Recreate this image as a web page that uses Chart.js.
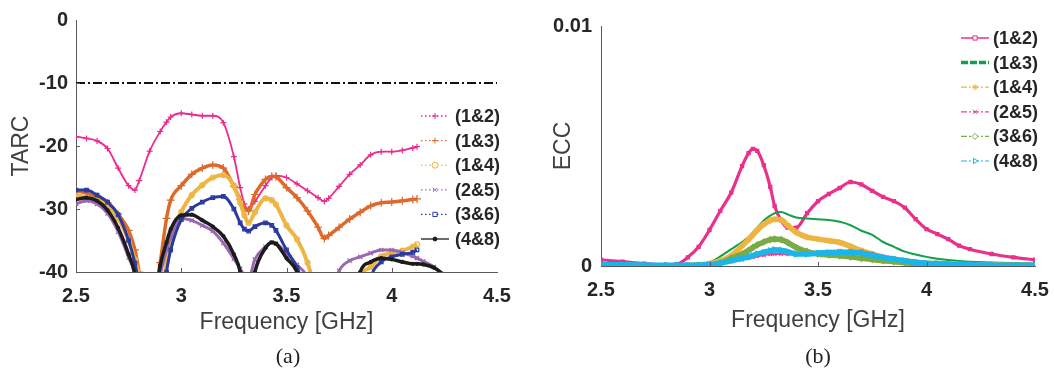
<!DOCTYPE html>
<html><head><meta charset="utf-8">
<script src="https://cdn.jsdelivr.net/npm/chart.js@4.4.1/dist/chart.umd.min.js"></script>
<style>
html,body{margin:0;padding:0;background:#fff;width:1054px;height:369px;overflow:hidden;}
#wrap{position:relative;width:1054px;height:369px;overflow:hidden;}
canvas{position:absolute;top:0;}
#cA{left:0}
#cB{left:527px}
.cap{position:absolute;top:343px;font-family:"Liberation Serif","Times New Roman",serif;font-size:22px;line-height:26px;color:#222;transform:translateX(-50%);}
</style></head>
<body><div id="wrap">
<canvas id="cA" width="527" height="369"></canvas>
<canvas id="cB" width="534" height="369"></canvas>
<div class="cap" style="left:288px">(a)</div>
<div class="cap" style="left:818px">(b)</div>
</div>
<script>
// ---------------- DATA ----------------
const SERIES_LABELS = ['(1&2)', '(1&3)', '(1&4)', '(2&5)', '(3&6)', '(4&8)'];
const X_TICKS = [2.5, 3, 3.5, 4, 4.5];
const TARC_Y_TICKS = [0, -10, -20, -30, -40];
const ECC_Y_TICKS = [0, 0.01];

// (a) TARC [dB] vs frequency [GHz]
const TARC_FREQ = [2.5, 2.55, 2.6, 2.65, 2.7, 2.75, 2.78, 2.8, 2.85, 2.9,
  2.93, 2.95, 3.0, 3.05, 3.1, 3.15, 3.2, 3.25, 3.28, 3.3,
  3.32, 3.35, 3.4, 3.43, 3.45, 3.5, 3.55, 3.6, 3.65, 3.68,
  3.7, 3.75, 3.8, 3.85, 3.9, 3.95, 4.0, 4.05, 4.1, 4.12,
  4.15, 4.2, 4.25];
const TARC_12 = [-18.5, -18.8, -19.2, -20.4, -23.5, -26.3, -27.0, -25.5, -20.8, -17.7,
  -16.2, -15.4, -14.8, -15.0, -15.2, -15.2, -16.3, -21.7, -26.6, -29.2,
  -30.0, -28.8, -26.3, -25.0, -24.7, -25.0, -26.0, -27.1, -28.2, -28.8,
  -28.3, -26.4, -24.5, -23.0, -21.4, -20.9, -20.9, -20.7, -20.3, -20.1,
  null, null, null];
const TARC_13 = [-27.0, -27.5, -28.0, -29.0, -30.8, -33.4, -36.5, -40.0, -48, -38.5,
  -31.5, -28.6, -26.3, -24.5, -23.5, -23.0, -23.5, -26.4, -28.5, -29.8,
  -30.3, -27.7, -25.3, -24.8, -24.9, -26.6, -28.2, -30.3, -32.9, -34.7,
  -34.2, -32.9, -31.6, -30.5, -29.5, -29.0, -28.9, -28.7, -28.5, -28.4,
  null, null, null];
const TARC_14 = [-27.7, -28.2, -28.6, -29.6, -31.5, -35.0, -38.0, -40.5, -50, -46,
  -38.5, -35.5, -30.5, -27.8, -26.2, -25.0, -24.6, -26.3, -29.0, -31.0,
  -32.2, -30.5, -28.3, -28.6, -29.3, -32.6, -34.8, -38.5, -45, -50,
  -50, -50, -50, -41, -39.2, -37.5, -37.0, -36.6, -36.0, -35.6,
  null, null, null];
const TARC_25 = [-29.2, -28.7, -29.2, -30.7, -33.6, -37.7, -40.5, -46, -50, -40.5,
  -36.5, -34.5, -31.5, -31.8, -32.6, -33.5, -35.4, -37.9, -39.5, -40.5,
  -41.0, -38.0, -36.0, -35.3, -35.5, -37.0, -38.9, -41.0, -48, -50,
  -45, -39.8, -38.2, -37.6, -37.0, -36.5, -36.5, -36.9, -37.5, -37.8,
  -38.3, -39.2, -40.5];
const TARC_36 = [-27.0, -27.0, -27.8, -28.9, -30.9, -35.0, -38.6, -42, -50, -48,
  -40, -36.5, -31.7, -29.9, -28.9, -28.2, -28.0, -30.0, -32.2, -33.2,
  -33.5, -32.8, -32.2, -32.6, -33.4, -36.5, -39.3, -44, -50, -50,
  -50, -50, -50, -50, -41, -38.4, -37.6, -37.2, -36.9, -36.5,
  null, null, null];
const TARC_48 = [-28.5, -28.2, -28.7, -30.2, -33.0, -37.2, -40.5, -46, -50, -39,
  -35.3, -33.2, -31.0, -30.9, -31.8, -32.8, -34.3, -37.2, -40, -45,
  -46, -40, -36.2, -35.3, -35.5, -37.8, -40, -46, -50, -50,
  -50, -50, -48, -40, -38.4, -37.8, -38.0, -38.4, -38.7, -38.7,
  -38.8, -39.3, -40.5];
const REF_FREQ = [2.5, 4.5];
const REF_TARC = [-10, -10];

// (b) ECC vs frequency [GHz]
const ECC_FREQ = [2.5, 2.6, 2.7, 2.8, 2.85, 2.9, 2.95, 3.0, 3.05, 3.1,
  3.15, 3.18, 3.2, 3.22, 3.25, 3.28, 3.3, 3.33, 3.36, 3.4,
  3.45, 3.5, 3.55, 3.6, 3.65, 3.7, 3.75, 3.8, 3.85, 3.9,
  3.95, 4.0, 4.05, 4.1, 4.15, 4.2, 4.3, 4.4, 4.5];
const ECC_12 = [0.00026, 0.00018, 0.0001, 0.00005, 0.00008, 0.00036, 0.0008, 0.0015, 0.0023, 0.00306,
  0.00416, 0.0047, 0.00488, 0.0048, 0.0042, 0.0033, 0.0025, 0.0019, 0.0016, 0.0016,
  0.0022, 0.0027, 0.003, 0.00325, 0.0035, 0.0034, 0.00313, 0.00288, 0.0027, 0.00243,
  0.00195, 0.00154, 0.00133, 0.00112, 0.00085, 0.0007, 0.0005, 0.00036, 0.00026];
const ECC_13 = [0.00006, 0.00006, 0.00004, 0.00002, 0.00002, 0.00002, 0.00005, 0.00015, 0.0004, 0.0007,
  0.001, 0.0012, 0.0014, 0.0016, 0.0019, 0.0021, 0.0022, 0.00225, 0.00215, 0.00202,
  0.00198, 0.00195, 0.00192, 0.00184, 0.0017, 0.00147, 0.0013, 0.001, 0.0008, 0.0006,
  0.00048, 0.00038, 0.0003, 0.00025, 0.00021, 0.00018, 0.00015, 0.00012, 0.0001];
const ECC_14 = [0.00002, 0.00002, 0.00002, 0.00001, 0.00001, 0.00002, 0.00005, 0.0001, 0.00022, 0.00043,
  0.00084, 0.0011, 0.0013, 0.0015, 0.00174, 0.0019, 0.00195, 0.00193, 0.0017, 0.0014,
  0.0012, 0.00112, 0.00105, 0.00098, 0.00082, 0.00064, 0.0005, 0.00036, 0.00028, 0.00022,
  0.00016, 0.00012, 0.0001, 0.00008, 0.00006, 0.00005, 0.00004, 0.00003, 0.00002];
const ECC_25 = [0.00002, 0.00002, 0.00002, 0.00001, 0.00001, 0.00002, 0.00003, 0.00005, 0.0001, 0.00018,
  0.00026, 0.00032, 0.00036, 0.0004, 0.00045, 0.00049, 0.0005, 0.0005, 0.00049, 0.00048,
  0.0005, 0.00056, 0.0006, 0.00064, 0.00064, 0.00062, 0.00052, 0.0004, 0.00032, 0.00025,
  0.00018, 0.00012, 0.0001, 0.00008, 0.00006, 0.00005, 0.00004, 0.00003, 0.00002];
const ECC_36 = [0.00001, 0.00001, 0.00001, 0.00001, 0.00001, 0.00002, 0.00003, 0.00005, 0.00012, 0.00032,
  0.0005, 0.00065, 0.00077, 0.00088, 0.001, 0.0011, 0.00112, 0.0011, 0.00098, 0.00077,
  0.0006, 0.0005, 0.00046, 0.00043, 0.00038, 0.00032, 0.00027, 0.00022, 0.00018, 0.00014,
  0.0001, 0.00008, 0.00006, 0.00005, 0.00004, 0.00003, 0.00002, 0.00002, 0.00002];
const ECC_48 = [0.00005, 0.00005, 0.00004, 0.00003, 0.00003, 0.00003, 0.00004, 0.00006, 0.00012, 0.00022,
  0.00032, 0.00038, 0.00043, 0.0005, 0.00057, 0.00064, 0.00068, 0.00066, 0.0006, 0.0005,
  0.0005, 0.00054, 0.00056, 0.00057, 0.00056, 0.00053, 0.00045, 0.00036, 0.00029, 0.00022,
  0.00016, 0.00012, 0.0001, 0.00008, 0.00006, 0.00005, 0.00004, 0.00003, 0.00003];

// ---------------- STYLE ----------------
Chart.defaults.font.family = "'Liberation Sans', Arial, sans-serif";
const TICK_FONT = {size: 20, weight: 'bold'};
const TICK_COLOR = '#262626';
const AXIS_COLOR = '#5a5a5a';

const TARC_STYLE = [
  {color: '#ec2a8c', width: 1.8, point: 'cross', r: 3, dash: [1.5, 2.5]},
  {color: '#dc6a2c', width: 3.5, point: 'cross', r: 4, dash: [1.5, 2.5]},
  {color: '#eeb545', width: 4, point: 'circle', r: 2.5, dash: [1.5, 2.5]},
  {color: '#9868b0', width: 3, point: 'crossRot', r: 3, dash: [1.5, 2.5]},
  {color: '#2b3a9e', width: 3, point: 'rect', r: 2.5, dash: [1.5, 2.5]},
  {color: '#1c1c1c', width: 3.5, point: 'circle', r: 1.5, dash: []}
];
const ECC_STYLE = [
  {color: '#e8308c', width: 3.2, point: 'rect', r: 2.2, lw: 1.5, ldash: []},
  {color: '#13a049', width: 2, point: false, r: 0, lw: 3.5, ldash: [7, 2]},
  {color: '#edb540', width: 5.5, point: 'star', r: 3, lw: 1.2, ldash: [6, 2, 2, 2]},
  {color: '#e6449a', width: 2, point: 'crossRot', r: 2.5, lw: 1.2, ldash: [6, 2, 2, 2]},
  {color: '#7bab44', width: 5.5, point: 'rectRot', r: 3, lw: 1.2, ldash: [6, 2, 2, 2]},
  {color: '#1ab6ea', width: 5.5, point: 'triangle', r: 3, lw: 1.2, ldash: [6, 2, 2, 2], rot: 90}
];

function pts(freq, vals) { return vals.map((v, i) => ({x: freq[i], y: v})); }

// in-plot legend drawn on the canvas (MATLAB-style legend inside the axes)
const inLegend = {
  id: 'inLegend',
  afterDraw(chart, args, o) {
    const ctx = chart.ctx;
    ctx.save();
    o.items.forEach((it, i) => {
      const ds = chart.data.datasets[it.ds];
      const y = o.y0 + o.dy * i;
      ctx.strokeStyle = ds.borderColor;
      ctx.lineWidth = it.lw;
      ctx.setLineDash(it.dash);
      ctx.beginPath();
      ctx.moveTo(o.x0, y); ctx.lineTo(o.x1, y); ctx.stroke();
      ctx.setLineDash([]);
      if (ds.pointStyle) {
        ctx.fillStyle = ds.label === '(4&8)' && chart.canvas.id === 'cA' ? ds.borderColor : '#fff';
        ctx.strokeStyle = ds.borderColor;
        ctx.lineWidth = 1;
        const opt = {pointStyle: ds.pointStyle, radius: it.r, rotation: ds.pointRotation || 0, borderWidth: 1};
        if (Chart.helpers && Chart.helpers.drawPoint) {
          Chart.helpers.drawPoint(ctx, opt, (o.x0 + o.x1) / 2, y);
        } else {
          ctx.beginPath(); ctx.arc((o.x0 + o.x1) / 2, y, it.r, 0, Math.PI * 2); ctx.fill(); ctx.stroke();
        }
      }
      ctx.fillStyle = TICK_COLOR;
      ctx.font = "bold 18px 'Liberation Sans', Arial, sans-serif";
      ctx.textBaseline = 'middle';
      ctx.textAlign = 'left';
      ctx.fillText(ds.label, o.xt, y + 1);
    });
    ctx.restore();
  }
};

// small inward tick marks (MATLAB style), placed through the chart scales
const innerTicks = {
  id: 'innerTicks',
  afterDraw(chart, args, o) {
    const ctx = chart.ctx, xs = chart.scales.x, ys = chart.scales.y, a = chart.chartArea;
    ctx.save();
    ctx.strokeStyle = AXIS_COLOR;
    ctx.lineWidth = 1;
    ctx.beginPath();
    xs.ticks.forEach(t => {
      const px = Math.round(xs.getPixelForValue(t.value)) + 0.5;
      if (px > a.left + 2 && px < a.right - 2) { ctx.moveTo(px, a.bottom); ctx.lineTo(px, a.bottom - 4); }
    });
    ys.ticks.forEach(t => {
      const py = Math.round(ys.getPixelForValue(t.value)) + 0.5;
      if (py > a.top + 2 && py < a.bottom - 2) { ctx.moveTo(a.left, py); ctx.lineTo(a.left + 4, py); }
    });
    ctx.stroke();
    ctx.restore();
  }
};

function xScale(height) {
  return {
    type: 'linear', min: 2.5, max: 4.5,
    grid: {display: false, drawTicks: false},
    border: {display: true, color: AXIS_COLOR, width: 1},
    ticks: {font: TICK_FONT, color: TICK_COLOR, padding: 12, maxRotation: 0, autoSkip: false,
            callback: v => String(v)},
    afterBuildTicks: s => { s.ticks = X_TICKS.map(v => ({value: v})); },
    afterFit: s => { s.height = height; },
    title: {display: true, text: 'Frequency [GHz]', color: '#404040',
            font: {size: 23, weight: 'normal'}, padding: {top: 0, bottom: 0}}
  };
}
function yScale(min, max, ticks, title, width, titlePad, labelPad) {
  return {
    type: 'linear', min: min, max: max,
    grid: {display: false, drawTicks: false},
    border: {display: true, color: AXIS_COLOR, width: 1},
    ticks: {font: TICK_FONT, color: TICK_COLOR, padding: labelPad, callback: v => String(v)},
    afterBuildTicks: s => { s.ticks = ticks.map(v => ({value: v})); },
    afterFit: s => { s.width = width; },
    title: {display: true, text: title, color: '#404040',
            font: {size: 23, weight: 'normal'}, padding: {top: titlePad, bottom: 0}}
  };
}

// ---------------- CHART (a) TARC ----------------
const tarcVals = [TARC_12, TARC_13, TARC_14, TARC_25, TARC_36, TARC_48];
const tarcSets = tarcVals.map((vals, i) => ({
  label: SERIES_LABELS[i],
  data: pts(TARC_FREQ, vals),
  borderColor: TARC_STYLE[i].color,
  backgroundColor: TARC_STYLE[i].color,
  borderWidth: TARC_STYLE[i].width,
  pointStyle: TARC_STYLE[i].point,
  pointRadius: TARC_STYLE[i].r,
  pointBorderWidth: 1.2,
  pointBorderColor: TARC_STYLE[i].color,
  pointBackgroundColor: i === 5 ? TARC_STYLE[i].color : 'rgba(255,255,255,0)',
  cubicInterpolationMode: 'monotone',
  spanGaps: false,
  order: 10 - i
}));
tarcSets.push({
  label: 'ref',
  data: pts(REF_FREQ, REF_TARC),
  borderColor: '#111',
  borderWidth: 2,
  borderDash: [9, 3, 2, 3],
  pointRadius: 0,
  order: 20
});

new Chart(document.getElementById('cA'), {
  type: 'line',
  data: {datasets: tarcSets},
  options: {
    responsive: false, animation: false, devicePixelRatio: 1,
    layout: {padding: {left: 0, top: 17, right: 30, bottom: 33}},
    plugins: {
      legend: {display: false}, tooltip: {enabled: false},
      inLegend: {x0: 421, x1: 449, xt: 455, y0: 116, dy: 24.6,
        items: TARC_STYLE.map((s, i) => ({ds: i, lw: 1.3, dash: s.dash, r: i === 5 ? 2 : 3}))}
    },
    scales: {
      x: xScale(64),
      y: yScale(-40, 0, TARC_Y_TICKS, 'TARC', 76, 8, 8)
    }
  },
  plugins: [inLegend, innerTicks]
});

// ---------------- CHART (b) ECC ----------------
const eccVals = [ECC_12, ECC_13, ECC_14, ECC_25, ECC_36, ECC_48];
const eccSets = eccVals.map((vals, i) => ({
  label: SERIES_LABELS[i],
  data: pts(ECC_FREQ, vals),
  borderColor: ECC_STYLE[i].color,
  backgroundColor: ECC_STYLE[i].color,
  borderWidth: ECC_STYLE[i].width,
  pointStyle: ECC_STYLE[i].point,
  pointRadius: ECC_STYLE[i].r,
  pointRotation: ECC_STYLE[i].rot || 0,
  pointBorderWidth: 1.2,
  pointBorderColor: ECC_STYLE[i].color,
  pointBackgroundColor: 'rgba(255,255,255,0)',
  cubicInterpolationMode: 'monotone',
  order: 10 - i
}));

new Chart(document.getElementById('cB'), {
  type: 'line',
  data: {datasets: eccSets},
  options: {
    responsive: false, animation: false, devicePixelRatio: 1,
    layout: {padding: {left: 0, top: 26, right: 26, bottom: 35}},
    plugins: {
      legend: {display: false}, tooltip: {enabled: false},
      inLegend: {x0: 434, x1: 462, xt: 466, y0: 38, dy: 24.6,
        items: ECC_STYLE.map((s, i) => ({ds: i, lw: s.lw, dash: s.ldash, r: 3}))}
    },
    scales: {
      x: xScale(68),
      y: yScale(0, 0.01, ECC_Y_TICKS, 'ECC', 74, 23, 9)
    }
  },
  plugins: [inLegend, innerTicks]
});
</script>
</body></html>
